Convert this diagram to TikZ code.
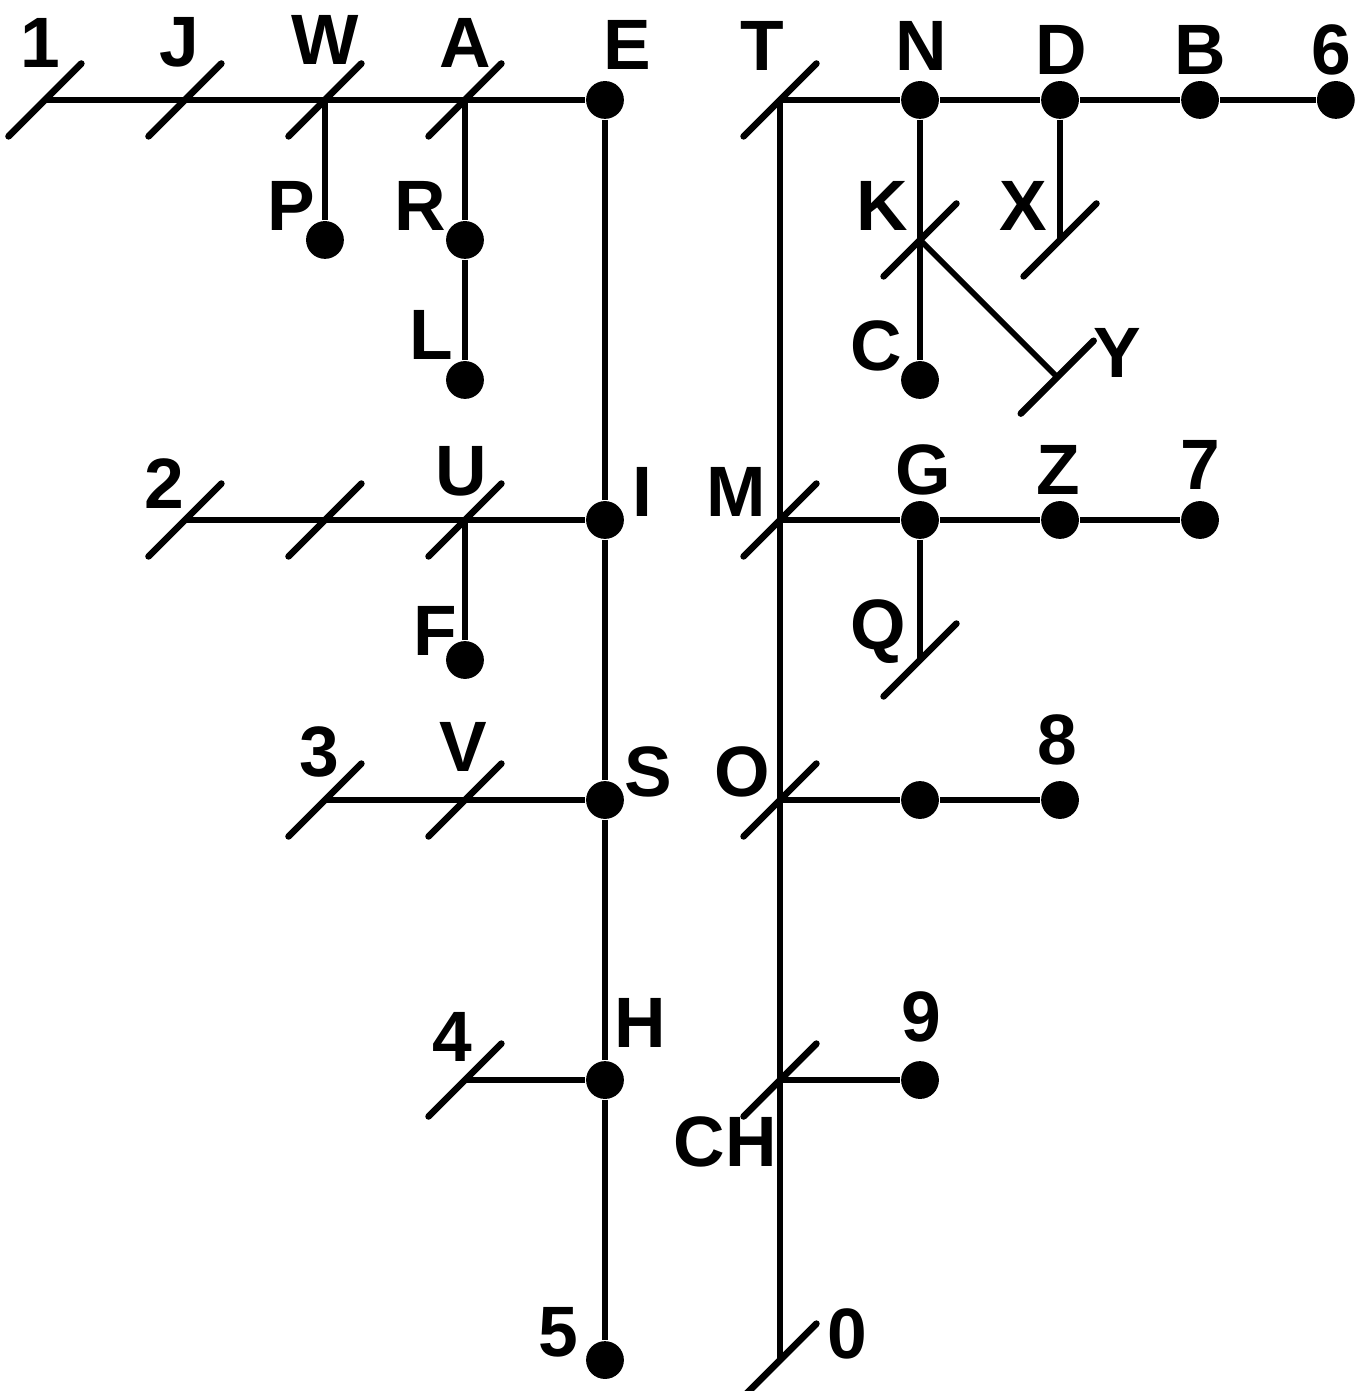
\documentclass[tikz,border=0pt]{standalone}
\usepackage{fontspec}
\setmainfont{Liberation Sans}

\begin{document}
\begin{tikzpicture}[
  x=1cm,y=1cm,
  wire/.style={line width=1.15pt},
  slashmark/.style={line width=1.35pt,line cap=round},
  dotnode/.style={circle,fill=black,inner sep=0pt,minimum size=0.27cm},
  lbl/.style={font=\fontsize{14.5}{17}\selectfont\bfseries,inner sep=0pt}
]
\useasboundingbox (-0.321,0.714) rectangle (9.407,-9.221);

% Left tree: points.
\coordinate (n1) at (0,0);
\coordinate (J) at (1,0);
\coordinate (W) at (2,0);
\coordinate (A) at (3,0);
\node[dotnode] (E) at (4,0) {};
\node[dotnode] (P) at (2,-1) {};
\node[dotnode] (R) at (3,-1) {};
\node[dotnode] (L) at (3,-2) {};
\coordinate (n2) at (1,-3);
\coordinate (m2) at (2,-3);
\coordinate (U) at (3,-3);
\node[dotnode] (I) at (4,-3) {};
\node[dotnode] (F) at (3,-4) {};
\coordinate (n3) at (2,-5);
\coordinate (V) at (3,-5);
\node[dotnode] (S) at (4,-5) {};
\coordinate (n4) at (3,-7);
\node[dotnode] (H) at (4,-7) {};
\node[dotnode] (n5) at (4,-9) {};

% Right tree: points.
\coordinate (T) at (5.25,0);
\node[dotnode] (N) at (6.25,0) {};
\node[dotnode] (D) at (7.25,0) {};
\node[dotnode] (B) at (8.25,0) {};
\node[dotnode] (n6) at (9.22,0) {};
\coordinate (K) at (6.25,-1);
\coordinate (X) at (7.25,-1);
\node[dotnode] (C) at (6.25,-2) {};
\coordinate (Y) at (7.23,-1.98);
\coordinate (M) at (5.25,-3);
\node[dotnode] (G) at (6.25,-3) {};
\node[dotnode] (Z) at (7.25,-3) {};
\node[dotnode] (n7) at (8.25,-3) {};
\coordinate (Q) at (6.25,-4);
\coordinate (O) at (5.25,-5);
\node[dotnode] (o8) at (6.25,-5) {};
\node[dotnode] (n8) at (7.25,-5) {};
\coordinate (CH) at (5.25,-7);
\node[dotnode] (n9) at (6.25,-7) {};
\coordinate (n0) at (5.25,-9);

% Wires.
\draw[wire] (n1) -- (J) -- (W) -- (A) -- (E);
\draw[wire] (W) -- (P);
\draw[wire] (A) -- (R) -- (L);
\draw[wire] (E) -- (I) -- (S) -- (H) -- (n5);
\draw[wire] (n2) -- (m2) -- (U) -- (I);
\draw[wire] (U) -- (F);
\draw[wire] (n3) -- (V) -- (S);
\draw[wire] (n4) -- (H);
\draw[wire] (T) -- (N) -- (D) -- (B) -- (n6);
\draw[wire] (T) -- (M) -- (O) -- (CH) -- (n0);
\draw[wire] (N) -- (K) -- (C);
\draw[wire] (K) -- (Y);
\draw[wire] (D) -- (X);
\draw[wire] (M) -- (G) -- (Z) -- (n7);
\draw[wire] (G) -- (Q);
\draw[wire] (O) -- (o8) -- (n8);
\draw[wire] (CH) -- (n9);

% Slash marks on the open ends and crossings.
\foreach \p in {n1,J,W,A,n2,m2,U,n3,V,n4,T,K,X,Y,M,Q,O,CH,n0}
  \draw[slashmark] (\p) ++(-0.26,-0.26) -- ++(0.52,0.52);

% Labels.
\node[lbl] (t1) at (-0.03,0.41) {1};
\node[lbl] (tJ) at (0.96,0.41) {J};
\node[lbl] (tW) at (2.0,0.43) {W};
\node[lbl] (tA) at (3.0,0.41) {A};
\node[lbl] (tE) at (4.16,0.39) {E};
\node[lbl] (tT) at (5.12,0.385) {T};
\node[lbl] (tN) at (6.26,0.385) {N};
\node[lbl] (tD) at (7.26,0.36) {D};
\node[lbl] (tB) at (8.25,0.36) {B};
\node[lbl] (t6) at (9.19,0.36) {6};
\node[lbl] (tP) at (1.76,-0.76) {P};
\node[lbl] (tR) at (2.68,-0.76) {R};
\node[lbl] (tL) at (2.76,-1.68) {L};
\node[lbl] (tK) at (5.98,-0.76) {K};
\node[lbl] (tX) at (6.99,-0.76) {X};
\node[lbl] (tC) at (5.94,-1.76) {C};
\node[lbl] (tY) at (7.66,-1.81) {Y};
\node[lbl] (t2) at (0.85,-2.74) {2};
\node[lbl] (tU) at (2.97,-2.65) {U};
\node[lbl] (tI) at (4.27,-2.8) {I};
\node[lbl] (tM) at (4.94,-2.8) {M};
\node[lbl] (tG) at (6.27,-2.64) {G};
\node[lbl] (tZ) at (7.24,-2.64) {Z};
\node[lbl] (t7) at (8.25,-2.61) {7};
\node[lbl] (tF) at (2.79,-3.79) {F};
\node[lbl] (tQ) at (5.95,-3.8) {Q};
\node[lbl] (t3) at (1.96,-4.66) {3};
\node[lbl] (tV) at (2.99,-4.62) {V};
\node[lbl] (tS) at (4.31,-4.8) {S};
\node[lbl] (tO) at (4.98,-4.8) {O};
\node[lbl] (t8) at (7.23,-4.57) {8};
\node[lbl] (t4) at (2.91,-6.69) {4};
\node[lbl] (tH) at (4.25,-6.59) {H};
\node[lbl] (t9) at (6.26,-6.55) {9};
\node[lbl] (tCH) at (4.86,-7.44) {CH};
\node[lbl] (t5) at (3.67,-8.8) {5};
\node[lbl] (t0) at (5.73,-8.81) {0};
\end{tikzpicture}
\end{document}
